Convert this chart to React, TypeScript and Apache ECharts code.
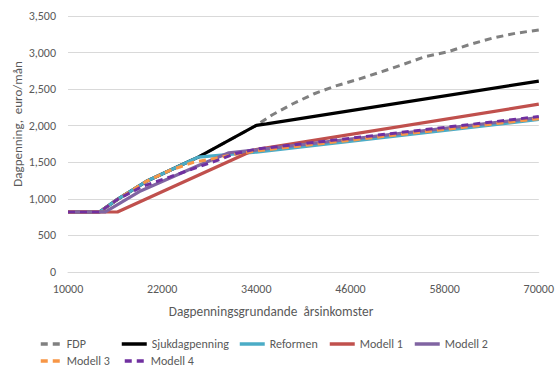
import React, { useEffect, useRef } from "react";
import * as echarts from "echarts";

// Income breakpoints (x) and monthly benefit values (y) per series
const fdpX = [10000, 14000, 16400, 20000, 25400, 26600, 34000, 36000, 38600, 41300, 44100, 47000, 50000, 52500, 55500, 58500, 61000, 64000, 67000, 70000];
const fdpY = [820, 820, 1000, 1240, 1510, 1570, 2005, 2147, 2297, 2434, 2543, 2635, 2739, 2830, 2944, 3012, 3104, 3195, 3263, 3310];

const sjukX = [10000, 14000, 16400, 20000, 25400, 26600, 34000, 35300, 70000];
const sjukY = [820, 820, 1000, 1240, 1510, 1570, 2005, 2025, 2610];

const reformenX = [10000, 14000, 16400, 20000, 25400, 26600, 34000, 70000];
const reformenY = [820, 820, 1000, 1240, 1510, 1570, 1640, 2085];

const modell1X = [10000, 16300, 33700, 70000];
const modell1Y = [820, 820, 1668, 2295];

const modell2X = [10000, 14700, 19100, 26700, 30500, 34000, 70000];
const modell2Y = [820, 820, 1100, 1460, 1630, 1670, 2110];

const modell3X = [10000, 14000, 16400, 20000, 23000, 26000, 28800, 31800, 34000, 70000];
const modell3Y = [820, 820, 1000, 1240, 1390, 1500, 1555, 1620, 1655, 2095];

const modell4X = [10000, 14000, 16400, 19500, 23000, 25900, 28600, 31400, 34000, 70000];
const modell4Y = [820, 820, 1000, 1170, 1300, 1410, 1510, 1620, 1680, 2125];

const xTicks = [10000, 22000, 34000, 46000, 58000, 70000];

const seriesNames = ["FDP", "Sjukdagpenning", "Reformen", "Modell 1", "Modell 2", "Modell 3", "Modell 4"];
const seriesColors = ["#808080", "#000000", "#4BACC6", "#C0504D", "#8064A2", "#F79646", "#7030A0"];
const seriesDashed = [true, false, false, false, false, true, true];
const seriesXs = [fdpX, sjukX, reformenX, modell1X, modell2X, modell3X, modell4X];
const seriesYs = [fdpY, sjukY, reformenY, modell1Y, modell2Y, modell3Y, modell4Y];

const FONT = "Carlito, Lato, 'Liberation Sans', sans-serif";
const TEXT = "#595959";

const legendPos = [
  { left: 39, top: 338 },
  { left: 120, top: 338 },
  { left: 238, top: 338 },
  { left: 328, top: 338 },
  { left: 413, top: 338 },
  { left: 39, top: 355 },
  { left: 123, top: 355 },
];

export default function App() {
  const ref = useRef<HTMLDivElement>(null);
  useEffect(() => {
    if (!ref.current) return;
    const chart = echarts.init(ref.current, null, { renderer: "svg" });
    const series = seriesNames.map((name, i) => ({
      name,
      type: "line",
      data: seriesXs[i].map((x, j) => [x, seriesYs[i][j]]),
      showSymbol: false,
      symbol: "none",
      lineStyle: {
        color: seriesColors[i],
        width: seriesDashed[i] ? 3 : 3.2,
        type: seriesDashed[i] ? [7, 5] : "solid",
        cap: "butt",
      },
      itemStyle: { color: seriesColors[i] },
      z: 2 + i,
    }));
    chart.setOption({
      animation: false,
      backgroundColor: "#ffffff",
      textStyle: { fontFamily: FONT },
      grid: { left: 68, right: 16, top: 16, bottom: 105, containLabel: false },
      xAxis: {
        type: "value",
        min: 10000,
        max: 70000,
        axisLine: { show: true, lineStyle: { color: "#D9D9D9", width: 1 } },
        axisTick: { show: false },
        splitLine: { show: false },
        axisLabel: {
          customValues: xTicks,
          color: TEXT,
          fontSize: 12,
          fontFamily: FONT,
          margin: 11,
          formatter: (v: number) => String(v),
        },
      },
      yAxis: {
        type: "value",
        min: 0,
        max: 3500,
        interval: 500,
        axisLine: { show: false },
        axisTick: { show: false },
        splitLine: { show: true, lineStyle: { color: "#D9D9D9", width: 1 } },
        axisLabel: {
          color: TEXT,
          fontSize: 12,
          fontFamily: FONT,
          margin: 12,
          formatter: (v: number) => v.toLocaleString("en-US"),
        },
      },
      legend: seriesNames.map((name, i) => ({
        data: [name],
        left: legendPos[i].left,
        top: legendPos[i].top,
        padding: 0,
        itemWidth: seriesDashed[i] ? 21 : 25,
        itemHeight: 14,
        itemGap: 0,
        itemStyle: { opacity: 0 },
        lineStyle: { width: 3.5 },
        textStyle: { color: TEXT, fontSize: 12, fontFamily: FONT },
      })),
      graphic: [
        {
          type: "text",
          x: 271,
          y: 311,
          style: {
            text: "Dagpenningsgrundande  årsinkomster",
            fill: TEXT,
            font: `13.3px ${FONT}`,
            textAlign: "center",
            textVerticalAlign: "middle",
          },
        },
        {
          type: "text",
          x: 17,
          y: 124,
          rotation: Math.PI / 2,
          style: {
            text: "Dagpenning,  euro/mån",
            fill: TEXT,
            font: `13px ${FONT}`,
            textAlign: "center",
            textVerticalAlign: "middle",
          },
        },
      ],
      series,
    });
    return () => chart.dispose();
  }, []);
  return <div ref={ref} style={{ width: 557, height: 377, position: "absolute", left: 0, top: 0 }} />;
}
